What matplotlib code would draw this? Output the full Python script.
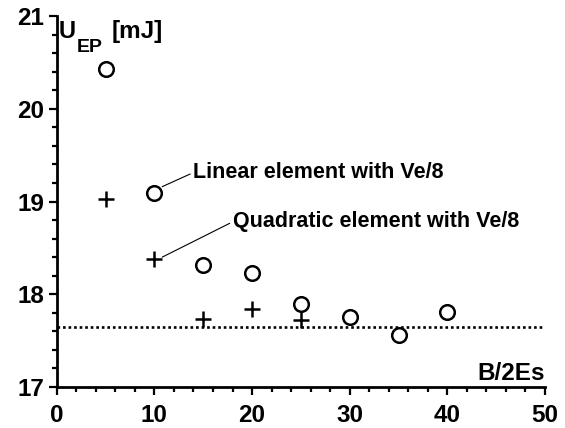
import matplotlib.pyplot as plt
from matplotlib.ticker import MultipleLocator

plt.rcParams['font.family'] = ['Liberation Sans', 'DejaVu Sans']
plt.rcParams['font.weight'] = 'bold'

# B/2Es values and energies
b_linear = [5, 10, 15, 20, 25, 30, 35, 40]
u_linear = [20.43, 19.09, 18.32, 18.23, 17.90, 17.75, 17.56, 17.81]
b_quad = [5, 10, 15, 20, 25]
u_quad = [19.03, 18.38, 17.73, 17.84, 17.72]
u_ref = 17.65

fig = plt.figure(figsize=(5.65, 4.28), dpi=100)
ax = fig.add_axes([0.1004, 0.0958, 0.8642, 0.8668])

ax.plot(b_linear, u_linear, ls='none', marker='o', ms=10.5,
        mfc='white', mec='black', mew=1.8, clip_on=False, zorder=3)
ax.plot(b_quad, u_quad, ls='none', marker='+', ms=11,
        mec='black', mew=1.8, clip_on=False, zorder=3)
ax.axhline(u_ref, color='black', ls=(0, (1, 1.1)), lw=1.9)

leader = dict(arrowstyle='-', lw=0.8, color='black', shrinkA=0, shrinkB=0,
              relpos=(0, 0.5))
ax.annotate('Linear element with Ve/8', xy=(10.8, 19.16), xytext=(13.95, 19.31),
            fontsize=15.5, fontweight='bold', va='center', ha='left',
            arrowprops=leader)
ax.annotate('Quadratic element with Ve/8', xy=(10.8, 18.40), xytext=(18.0, 18.78),
            fontsize=15.5, fontweight='bold', va='center', ha='left',
            arrowprops=leader)

ax.set_xlim(0, 50)
ax.set_ylim(17, 21)
ax.xaxis.set_major_locator(MultipleLocator(10))
ax.xaxis.set_minor_locator(MultipleLocator(2))
ax.yaxis.set_major_locator(MultipleLocator(1))
ax.yaxis.set_minor_locator(MultipleLocator(0.2))
ax.tick_params(which='major', length=6, width=1.6, labelsize=17.5)
ax.tick_params(which='minor', length=3.5, width=1.6)
ax.tick_params(axis='x', which='major', pad=6)
ax.tick_params(axis='y', which='major', pad=3)
for lab in ax.get_xticklabels() + ax.get_yticklabels():
    lab.set_fontweight('bold')

for side in ('top', 'right'):
    ax.spines[side].set_visible(False)
for side in ('left', 'bottom'):
    ax.spines[side].set_linewidth(2)

# y-axis title: U with a dropped EP subscript, then the unit
W, H = 565, 428
fig.text(59 / W, 1 - 38 / H, 'U', fontsize=17, fontweight='bold', va='baseline')
fig.text(77 / W, 1 - 52 / H, 'EP', fontsize=14, fontweight='bold', va='baseline')
fig.text(112 / W, 1 - 38 / H, '[mJ]', fontsize=17.5, fontweight='bold', va='baseline')

ax.text(1.0, 0.006, 'B/2Es', transform=ax.transAxes,
        fontsize=17.5, fontweight='bold', ha='right', va='bottom')

fig.savefig('out.png', dpi=100)
